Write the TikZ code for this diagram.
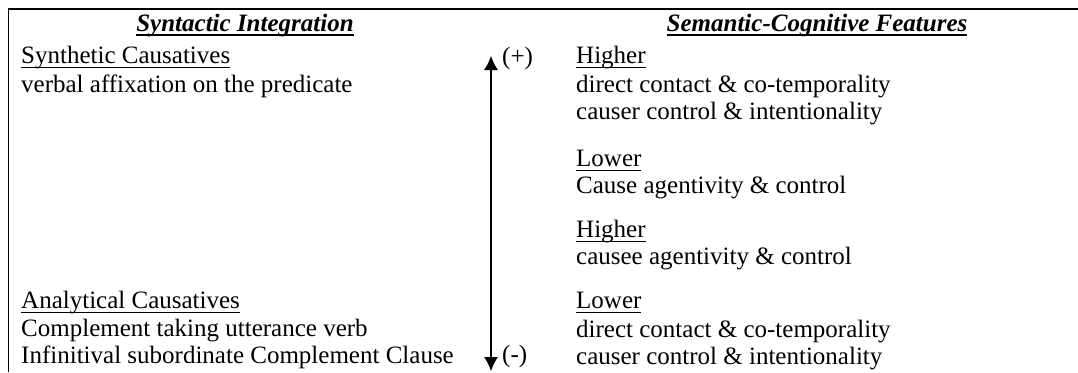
\documentclass[tikz,border=0pt]{standalone}
\usepackage{fontspec}
\setmainfont{Liberation Serif}
\usetikzlibrary{arrows.meta}
\newcommand\myul[1]{\setbox0\hbox{#1}\rlap{\vrule width\wd0 height -3.6pt depth 5pt}\box0}
\newcommand\myulb[1]{\setbox0\hbox{#1}\rlap{\vrule width\wd0 height -3.2pt depth 5.4pt}\box0}
\tikzset{
  txt/.style={anchor=base west, inner sep=0pt, font=\fontsize{25}{28}\selectfont},
  ttl/.style={anchor=base, inner sep=0pt, font=\fontsize{25}{28}\selectfont\bfseries\itshape},
  rule/.style={line width=2pt},
  biarrow/.style={line width=1.1pt, {Latex[width=14pt,length=14pt]}-{Latex[width=14pt,length=14pt]}}
}
\begin{document}
\begin{tikzpicture}[x=1pt,y=1pt]
\useasboundingbox (0,0) rectangle (1078,-372);
\fill[white] (0,0) rectangle (1078,-372);
\coordinate (tl) at (8,-9);
\coordinate (tr) at (1078,-9);
\coordinate (bl) at (8,-372);
\draw[rule] (tr) -- (tl);
\draw[line width=1pt] (tl) -- (bl);
% titles
\node[ttl] (t1) at (245,-31) {\myulb{Syntactic Integration}};
\node[ttl] (t2) at (817,-31) {\myulb{Semantic-Cognitive Features}};
% left column
\node[txt] (l1) at (21,-63) {\myul{Synthetic Causatives}};
\node[txt] (l2) at (21,-92) {verbal affixation on the predicate};
\node[txt] (l3) at (21,-308) {\myul{Analytical Causatives}};
\node[txt] (l4) at (21,-336) {Complement taking utterance verb};
\node[txt] (l5) at (21,-363) {Infinitival subordinate Complement Clause};
% right column
\node[txt] (r1) at (576,-63) {\myul{Higher}};
\node[txt] (r2) at (576,-92) {direct contact \& co-temporality};
\node[txt] (r3) at (576,-119) {causer control \& intentionality};
\node[txt] (r4) at (576,-166) {\myul{Lower}};
\node[txt] (r5) at (576,-193) {Cause agentivity \& control};
\node[txt] (r6) at (576,-237) {\myul{Higher}};
\node[txt] (r7) at (576,-264) {causee agentivity \& control};
\node[txt] (r8) at (576,-308) {\myul{Lower}};
\node[txt] (r9) at (576,-337) {direct contact \& co-temporality};
\node[txt] (r10) at (576,-364) {causer control \& intentionality};
% arrow
\coordinate (atop) at (491,-56);
\coordinate (abot) at (491,-371);
\draw[biarrow] (abot) -- (atop);
\node[txt] (plus) at (502,-64) {(+)};
\node[txt] (minus) at (502,-362) {(-)};
\end{tikzpicture}
\end{document}
